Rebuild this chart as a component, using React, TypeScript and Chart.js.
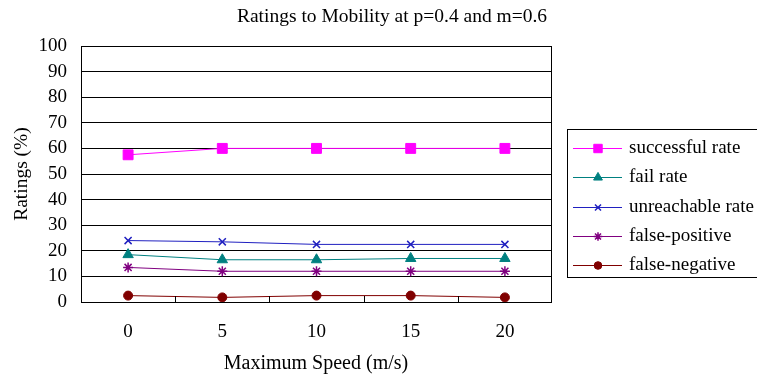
import React, { useEffect, useRef } from "react";
import { Chart, registerables } from "chart.js";
import { drawPoint } from "chart.js/helpers";

Chart.register(...registerables);

const categories = ["0", "5", "10", "15", "20"];
const successfulRate = [57.5, 60, 60, 60, 60];
const failRate = [18.5, 16.5, 16.5, 17, 17];
const unreachableRate = [24, 23.5, 22.5, 22.5, 22.5];
const falsePositive = [13.5, 12, 12, 12, 12];
const falseNegative = [2.5, 1.8, 2.5, 2.5, 1.8];
const yTicks = [0, 10, 20, 30, 40, 50, 60, 70, 80, 90, 100];

const FONT = "'Liberation Serif', 'DejaVu Serif', serif";

const framePlugin = {
  id: "frame",
  afterDraw(chart: any) {
    const { ctx, chartArea, scales } = chart;
    const { left, right, top, bottom } = chartArea;
    ctx.save();
    ctx.strokeStyle = "#000";
    ctx.lineWidth = 1;
    ctx.strokeRect(left + 0.5, top + 0.5, right - left - 1, bottom - top);
    const xs = scales.x;
    const n = categories.length;
    const w = (right - left) / n;
    ctx.beginPath();
    for (let i = 1; i < n; i++) {
      const px = Math.round(xs.getPixelForValue(i) - w / 2) + 0.5;
      ctx.moveTo(px, bottom);
      ctx.lineTo(px, bottom - 6);
    }
    ctx.stroke();
    ctx.fillStyle = "#000";
    ctx.font = `19.5px ${FONT}`;
    ctx.textAlign = "center";
    ctx.textBaseline = "middle";
    ctx.fillText("Ratings to Mobility at p=0.4 and m=0.6", 392, 17);
    ctx.font = `20px ${FONT}`;
    ctx.fillText("Maximum Speed (m/s)", 316, 364);
    ctx.save();
    ctx.translate(22, 174);
    ctx.rotate(-Math.PI / 2);
    ctx.font = `19.5px ${FONT}`;
    ctx.fillText("Ratings (%)", 0, 0);
    ctx.restore();
    // legend
    const lx = 567, ly = 129, lh = 148;
    ctx.strokeStyle = "#000";
    ctx.lineWidth = 1;
    ctx.strokeRect(lx + 0.5, ly + 0.5, 200, lh);
    const ds = chart.data.datasets;
    ds.forEach((d: any, i: number) => {
      const y = 148 + i * 29.3;
      const yy = Math.round(y) + 0.5;
      ctx.strokeStyle = d.borderColor;
      ctx.lineWidth = 1;
      ctx.beginPath();
      ctx.moveTo(573, yy);
      ctx.lineTo(622, yy);
      ctx.stroke();
      ctx.fillStyle = d.pointBackgroundColor;
      ctx.strokeStyle = d.pointBorderColor;
      ctx.lineWidth = d.pointBorderWidth || 1;
      drawPoint(ctx, { pointStyle: d.pointStyle, radius: d.pointRadius * 0.85, rotation: 0, borderWidth: ctx.lineWidth } as any, 598, yy);
      ctx.fillStyle = "#000";
      ctx.font = `19px ${FONT}`;
      ctx.textAlign = "left";
      ctx.textBaseline = "middle";
      ctx.fillText(d.label, 629, y);
    });
    ctx.restore();
  },
};

export default function App() {
  const ref = useRef<HTMLCanvasElement | null>(null);
  useEffect(() => {
    if (!ref.current) return;
    const mk = (label: string, data: number[], color: string, style: string, radius: number, fill: boolean) => ({
      label,
      data,
      borderColor: color,
      backgroundColor: color,
      borderWidth: 1,
      pointStyle: style,
      pointRadius: radius,
      pointBackgroundColor: fill ? color : "rgba(0,0,0,0)",
      pointBorderColor: color,
      pointBorderWidth: fill ? 1 : 1.5,
      tension: 0,
    });
    const chart = new Chart(ref.current, {
      type: "line",
      data: {
        labels: categories,
        datasets: [
          mk("successful rate", successfulRate, "#FF00FF", "rect", 7, true),
          mk("fail rate", failRate, "#008080", "triangle", 6, true),
          mk("unreachable rate", unreachableRate, "#2020C0", "crossRot", 5, false),
          mk("false-positive", falsePositive, "#800080", "star", 5, false),
          mk("false-negative", falseNegative, "#800000", "circle", 4.5, true),
        ] as any,
      },
      options: {
        animation: false,
        responsive: false,
        maintainAspectRatio: false,
        layout: { padding: { left: 0, top: 46, right: 205, bottom: 0 } },
        plugins: { legend: { display: false }, tooltip: { enabled: false }, title: { display: false } },
        scales: {
          x: {
            type: "category",
            offset: true,
            grid: { display: false, drawTicks: false },
            border: { display: false },
            ticks: { color: "#000", font: { family: FONT, size: 19 }, padding: 19, maxRotation: 0, autoSkip: false },
            afterFit: (s: any) => { s.height = 77; },
          },
          y: {
            min: 0,
            max: 100,
            afterBuildTicks: (s: any) => { s.ticks = yTicks.map((v) => ({ value: v })); },
            grid: { color: "#000", lineWidth: 1, drawTicks: false },
            border: { display: false },
            ticks: { color: "#000", font: { family: FONT, size: 19, lineHeight: 1 }, padding: 14, autoSkip: false },
            afterFit: (s: any) => { s.width = 81; },
          },
        },
      },
      plugins: [framePlugin],
    });
    return () => chart.destroy();
  }, []);
  return (
    <div style={{ position: "fixed", left: 0, top: 0, width: 757, height: 379, background: "#fff" }}>
      <canvas ref={ref} width={757} height={379} style={{ display: "block" }} />
    </div>
  );
}
